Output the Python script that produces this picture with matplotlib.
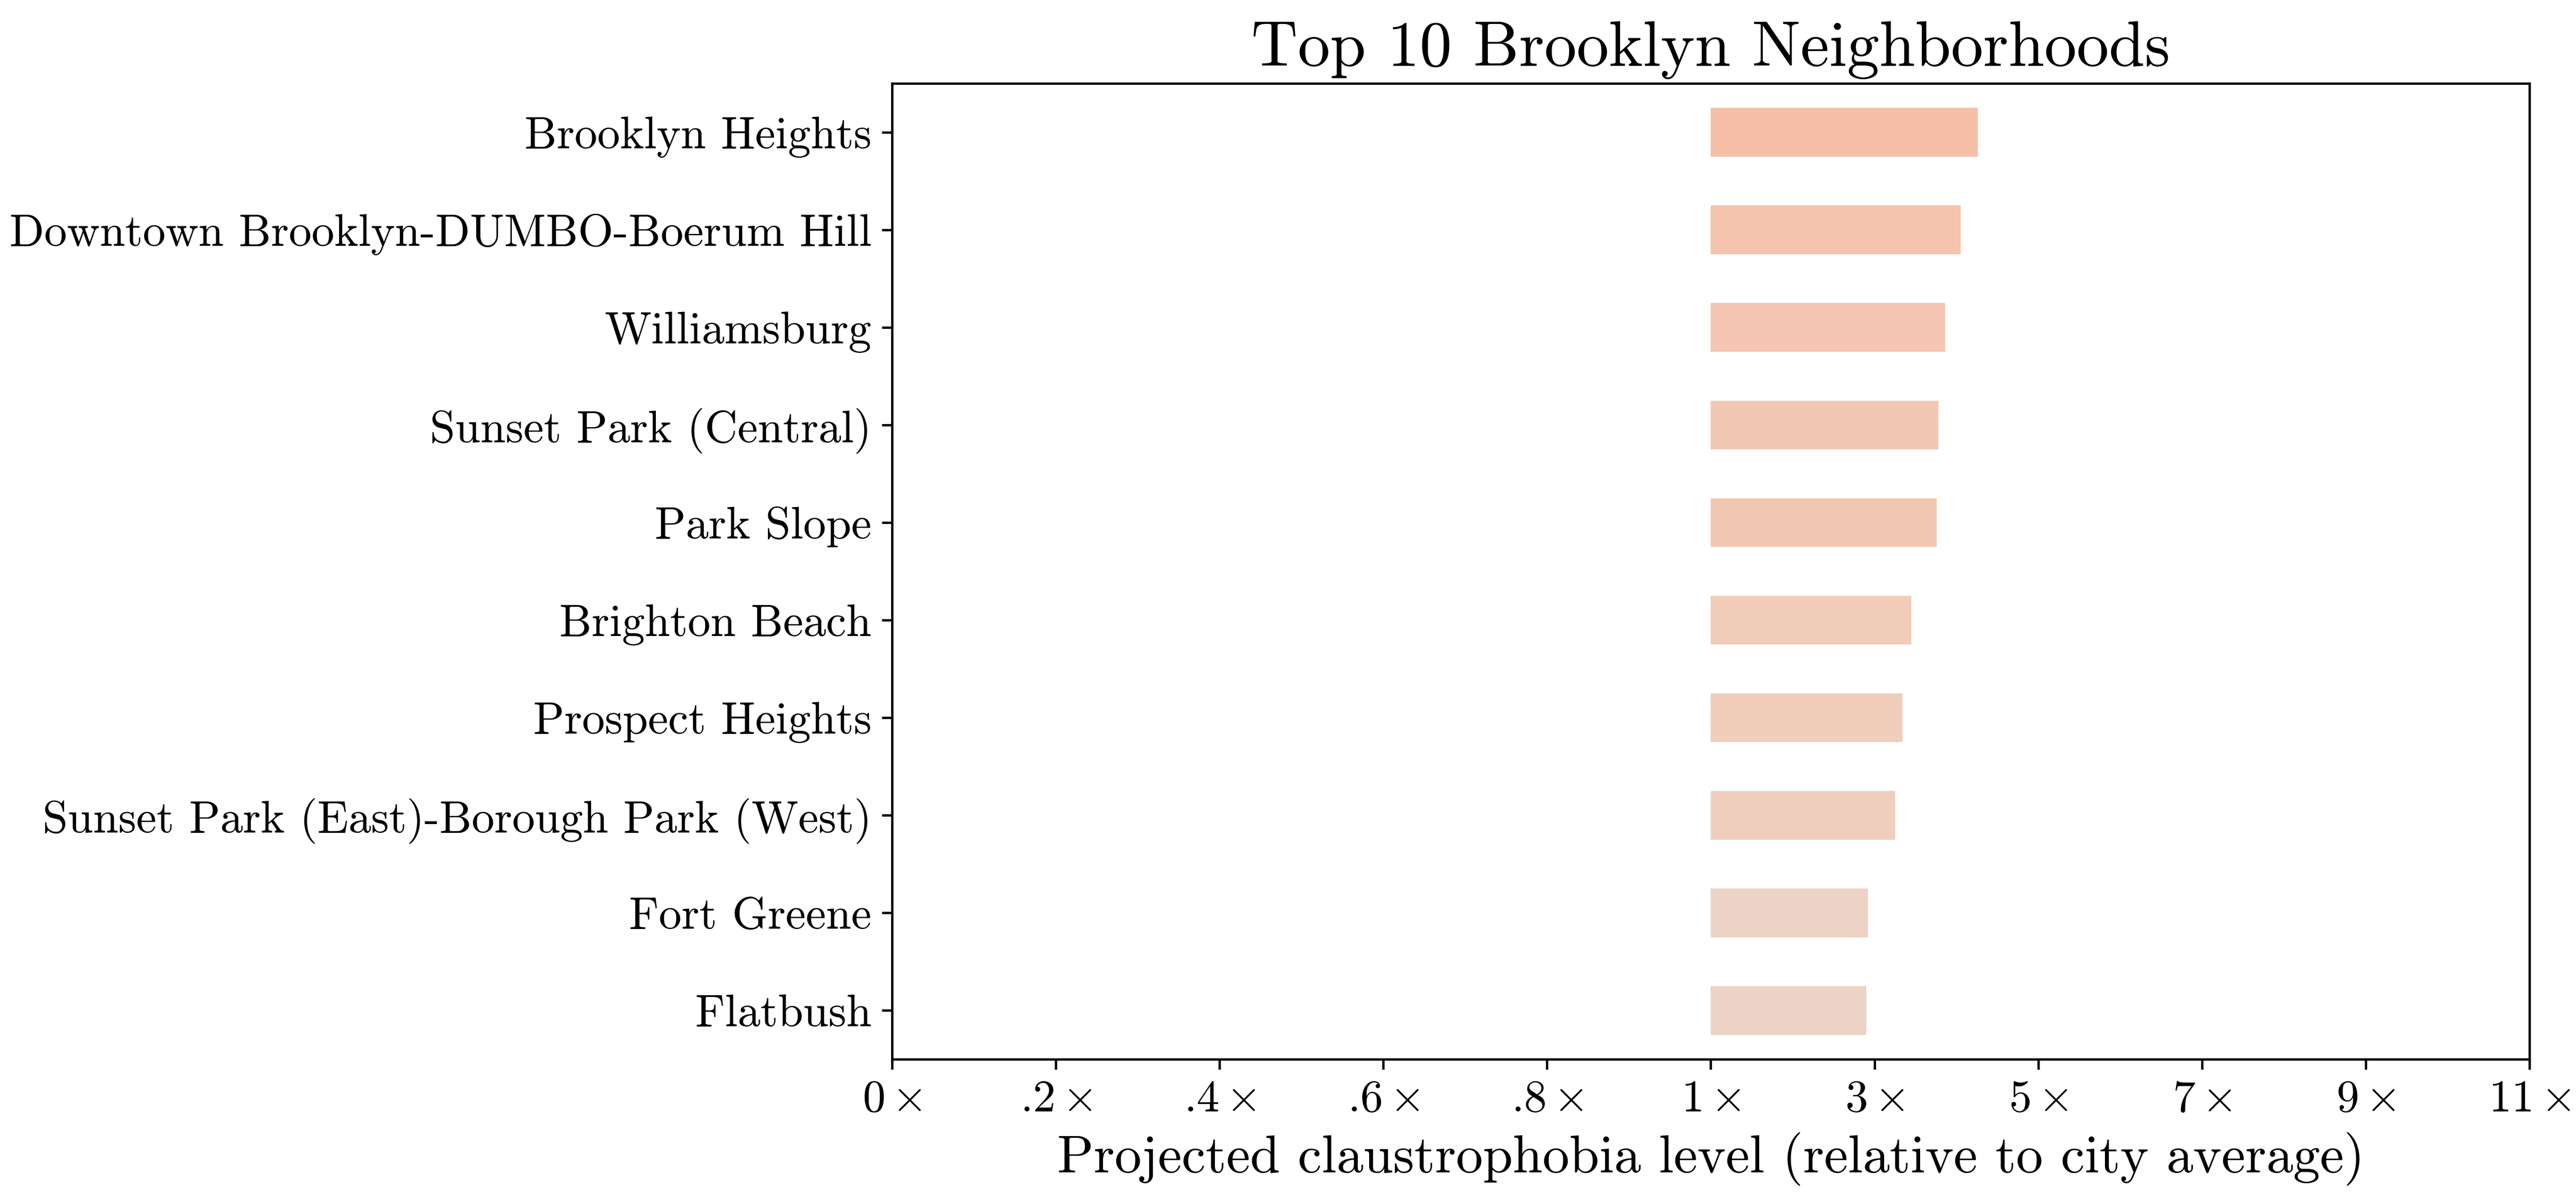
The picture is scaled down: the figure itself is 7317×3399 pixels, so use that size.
import numpy as np
import matplotlib
matplotlib.use("Agg")
import matplotlib.pyplot as plt
from matplotlib import colors as mcolors

neighborhoods = [
    "Brooklyn Heights",
    "Downtown Brooklyn-DUMBO-Boerum Hill",
    "Williamsburg",
    "Sunset Park (Central)",
    "Park Slope",
    "Brighton Beach",
    "Prospect Heights",
    "Sunset Park (East)-Borough Park (West)",
    "Fort Greene",
    "Flatbush",
]
values = [4.26, 4.05, 3.86, 3.78, 3.76, 3.45, 3.34, 3.25, 2.92, 2.90]
tick_values = [0, 0.2, 0.4, 0.6, 0.8, 1, 3, 5, 7, 9, 11]
tick_labels = ["0", ".2", ".4", ".6", ".8", "1", "3", "5", "7", "9", "11"]

plt.rcParams['font.family'] = ['cmr10', 'DejaVu Serif']
plt.rcParams['mathtext.fontset'] = 'cm'
plt.rcParams['axes.formatter.use_mathtext'] = True

def fwd(x):
    x = np.asarray(x, dtype=float)
    return np.where(x < 1, 5 * x, 5 + (x - 1) / 2)

def inv(y):
    y = np.asarray(y, dtype=float)
    return np.where(y < 5, y / 5, 1 + (y - 5) * 2)

fig = plt.figure(figsize=(7317 / 600, 3399 / 600), dpi=600)
ax = fig.add_axes([0.3463, 0.11503, 0.98196 - 0.3463, 0.93027 - 0.11503])
ax.set_xscale('function', functions=(fwd, inv))

norm = mcolors.Normalize(vmin=-7.3, vmax=10.8)
cmap = plt.get_cmap('coolwarm')
ypos = np.arange(len(neighborhoods))
bar_colors = [cmap(norm(v)) for v in values]
ax.barh(ypos, [v - 1 for v in values], left=1, height=0.5, color=bar_colors)

ax.set_xlim(0, 11)
ax.set_ylim(len(neighborhoods) - 0.5, -0.5)
ax.set_yticks(ypos)
ax.set_yticklabels(neighborhoods, fontsize=15.5)
ax.set_xticks(tick_values)
ax.set_xticklabels([r"%s$\,{\times}$" % t for t in tick_labels], fontsize=15.5)
ax.minorticks_off()
ax.set_xlabel("Projected claustrophobia level (relative to city average)", fontsize=18.3)
ax.set_title("Top 10 Brooklyn Neighborhoods", fontsize=22)

fig.savefig("out.png", dpi=600)
